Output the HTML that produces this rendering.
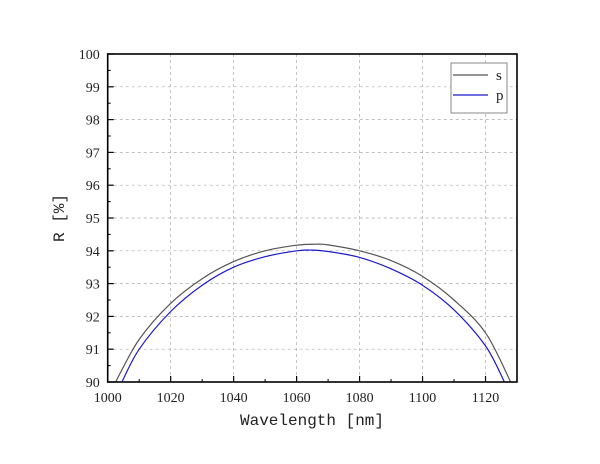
<!DOCTYPE html>
<html><head><meta charset="utf-8"><style>
body{margin:0;background:#fff}
text{font-family:"Liberation Serif","Noto Serif CJK SC",serif;fill:#222}
</style></head><body>
<svg id="chart" width="600" height="459" xmlns="http://www.w3.org/2000/svg">
<g id="grid"></g>
<g id="series"></g>
<rect x="107.7" y="54" width="409.3" height="328" fill="none" stroke="#000" stroke-width="1.6"/>
<g id="axes"></g>
<text x="312" y="425" text-anchor="middle" font-size="16" style="font-family:'Liberation Mono',monospace">Wavelength [nm]</text>
<text transform="translate(64,218) rotate(-90)" text-anchor="middle" font-size="16" style="font-family:'Liberation Mono',monospace">R [%]</text>
<g>
<rect x="451" y="63" width="56" height="50" fill="#fff" stroke="#888" stroke-width="1"/>
<line x1="453" y1="75" x2="488" y2="75" stroke="#555" stroke-width="1.2"/>
<text x="496" y="80" font-size="15">s</text>
<line x1="453" y1="95" x2="488" y2="95" stroke="#1a1acc" stroke-width="1.2"/>
<text x="496" y="100" font-size="15">p</text>
</g>
</svg>
<script>
const sWave=[1002.5,1010,1020,1030,1040,1050,1060,1066,1070,1080,1090,1100,1110,1120,1128];
const sVals=[90,91.3,92.4,93.15,93.67,94.0,94.17,94.2,94.18,94.0,93.7,93.22,92.5,91.5,90];
const pWave=[1004.5,1010,1020,1030,1040,1050,1060,1065,1070,1080,1090,1100,1110,1120,1126];
const pVals=[90,91.0,92.15,92.95,93.5,93.82,94.0,94.02,93.98,93.8,93.45,92.95,92.2,91.1,90];
const xTicks=[1000,1020,1040,1060,1080,1100,1120];
const yTicks=[90,91,92,93,94,95,96,97,98,99,100];
const NS="http://www.w3.org/2000/svg";
const X0=107.7,X1=517,Y0=382,Y1=54,XMIN=1000,XMAX=1130,YMIN=90,YMAX=100;
const xs=v=>X0+(v-XMIN)/(XMAX-XMIN)*(X1-X0);
const ys=v=>Y0-(v-YMIN)/(YMAX-YMIN)*(Y0-Y1);
function mk(tag,attrs,parent){const e=document.createElementNS(NS,tag);for(const k in attrs)e.setAttribute(k,attrs[k]);parent.appendChild(e);return e;}
const grid=document.getElementById('grid'),axes=document.getElementById('axes'),ser=document.getElementById('series');
xTicks.forEach(t=>{
 const x=xs(t);
 if(t>XMIN){const g=mk('line',{x1:x,y1:Y1,x2:x,y2:Y0,stroke:'#aaa','stroke-dasharray':'3,3','stroke-width':0.7},grid);
 
 }
 const tk=mk('line',{x1:x,y1:Y0,x2:x,y2:Y0-6,stroke:'#000','stroke-width':1.2},axes);
 
 
 const mt=mk('line',{x1:xs(t+10),y1:Y0,x2:xs(t+10),y2:Y0-3,stroke:'#000','stroke-width':1},axes);
 
 
 const lb=mk('text',{x:x,y:Y0+20,'text-anchor':'middle','font-size':14},axes);
 lb.textContent=t;
 
 
});
yTicks.forEach(t=>{
 const y=ys(t);
 if(t>YMIN&&t<YMAX){const g=mk('line',{x1:X0,y1:y,x2:X1,y2:y,stroke:'#aaa','stroke-dasharray':'3,3','stroke-width':0.7},grid);
 
 }
 const tk=mk('line',{x1:X0,y1:y,x2:X0+6,y2:y,stroke:'#000','stroke-width':1.2},axes);
 
 
 if(t<YMAX){const mt=mk('line',{x1:X0,y1:ys(t+0.5),x2:X0+3,y2:ys(t+0.5),stroke:'#000','stroke-width':1},axes);
 
 }
 const lb=mk('text',{x:X0-8,y:y+5,'text-anchor':'end','font-size':14},axes);
 lb.textContent=t;
 
 
});
function path(w,v,col,name){
 const P=w.map((a,i)=>[xs(a),ys(v[i])]);
 let d='M'+P[0][0].toFixed(1)+','+P[0][1].toFixed(1);
 for(let i=0;i<P.length-1;i++){
  const p0=P[i-1]||P[i],p1=P[i],p2=P[i+1],p3=P[i+2]||P[i+1];
  const c1=[p1[0]+(p2[0]-p0[0])/6,p1[1]+(p2[1]-p0[1])/6];
  const c2=[p2[0]-(p3[0]-p1[0])/6,p2[1]-(p3[1]-p1[1])/6];
  d+=' C'+c1.map(n=>n.toFixed(1)).join(',')+' '+c2.map(n=>n.toFixed(1)).join(',')+' '+p2.map(n=>n.toFixed(1)).join(',');
 }
 const p=mk('path',{d:d,fill:'none',stroke:col,'stroke-width':1.2,'stroke-linejoin':'round'},ser);
 
 
}
path(sWave,sVals,'#555','series-s-line');
path(pWave,pVals,'#1a1acc','series-p-line');
</script>
</body></html>
